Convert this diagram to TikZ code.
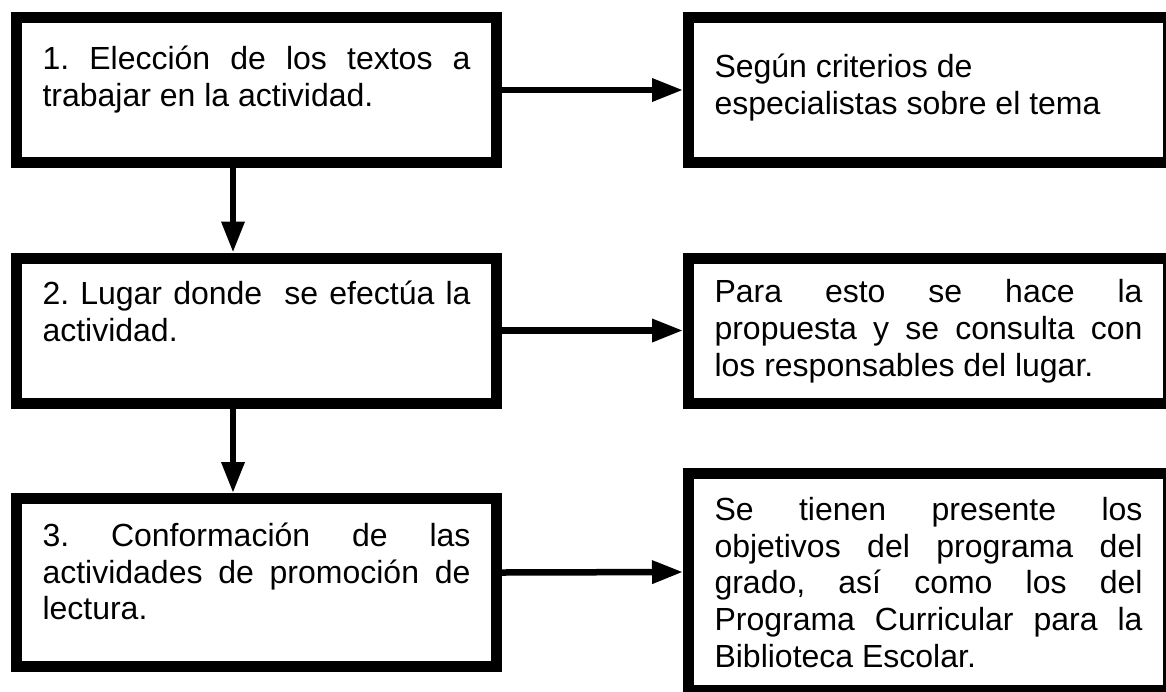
\documentclass[tikz,border=0pt]{standalone}
\usepackage{fontspec}
\setmainfont{Liberation Sans}
\usetikzlibrary{arrows.meta}
\frenchspacing
\hyphenpenalty=10000
\tolerance=10000
\adjdemerits=0
% text of a box: [top gap]{height}{words}
\newcommand{\contenido}[3][10.5pt]{\parbox[c][#2][t]{214pt}{\vspace*{#1}\strut #3}}

\begin{document}
\begin{tikzpicture}[x=0.5pt,y=-0.5pt,font=\fontsize{16}{18.4}\selectfont,
	cuadro/.style={draw,line width=5.5pt,inner xsep=13pt,inner ysep=0pt},
	flecha/.style={line width=3.25pt,-{Triangle[length=15.5pt,width=11pt]}}]
	\useasboundingbox (0,0) rectangle (1166,691);
	% pasos
	\node[cuadro] (b1) at (256.5,90) {\contenido[13pt]{72.5pt}{1. Elección de los textos a trabajar en la actividad.}};
	\node[cuadro] (b2) at (256.5,330.5) {\contenido{72.5pt}{2. Lugar donde~ se efectúa la actividad.}};
	\node[cuadro] (b3) at (256.5,582.5) {\contenido[11pt]{84pt}{3. Conformación de las actividades de promoción de lectura.}};
	% notas
	\node[cuadro] (r1) at (928.5,90) {\contenido[17pt]{72.5pt}{Según criterios de\\ especialistas sobre el tema}};
	\node[cuadro] (r2) at (928.5,330.5) {\contenido[9.5pt]{72.5pt}{Para esto se hace la propuesta y se consulta con los responsables del lugar.}};
	\node[cuadro] (r3) at (928.5,582) {\contenido{108.5pt}{Se tienen presente los objetivos del programa del grado, así como los del Programa Curricular para la Biblioteca Escolar.}};
	% flechas
	\foreach \i/\d in {1/0pt,2/0pt,3/5pt}
		\draw[flecha] ([yshift=\d]b\i.east) -- ([yshift=\d]r\i.west);
	\foreach \i/\j in {1/2,2/3}
		\draw[flecha] ([xshift=-11.75pt]b\i.south) -- ([xshift=-11.75pt]b\j.north);
\end{tikzpicture}
\end{document}
